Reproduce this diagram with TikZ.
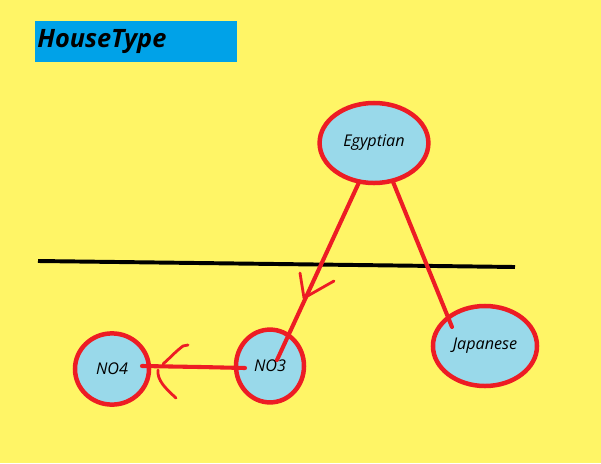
\documentclass[tikz,border=0pt]{standalone}
\usepackage{fontspec}
\setmainfont{Open Sans}
\usetikzlibrary{shapes.geometric}
\definecolor{paper}{RGB}{255,245,102}
\definecolor{titleblue}{RGB}{0,162,232}
\definecolor{housefill}{RGB}{153,217,234}
\definecolor{penred}{RGB}{237,28,36}

\begin{document}
\begin{tikzpicture}[x=0.025cm, y=-0.025cm,
  house/.style={ellipse, draw=penred, fill=housefill, line width=3.2pt, inner sep=0pt, font=\itshape\fontsize{11.5}{13}\selectfont},
  pen/.style={draw=penred, line width=2.9pt, line cap=round, line join=round},
  hand/.style={draw=penred, line width=2pt, line cap=round, line join=round}
]
\fill[paper] (0,0) rectangle (601,463);
\useasboundingbox (0,0) rectangle (601,463);
\node[fill=titleblue, anchor=north west, minimum height=1.025cm, text width=4.95cm, inner xsep=0.05cm, inner ysep=0pt, align=left, font=\bfseries\itshape\fontsize{18}{21}\selectfont] (title) at (35,21) {HouseType};
\node[house, minimum width=2.72cm, minimum height=2.0cm] (egyptian) at (374,143) {Egyptian};
\node[house, minimum width=2.6cm, minimum height=2.0cm] (japanese) at (485,346) {Japanese};
\node[house, minimum width=1.7cm, minimum height=1.82cm] (no3) at (270,366) {NO3};
\node[house, minimum width=1.85cm, minimum height=1.78cm] (no4) at (112,369) {NO4};
\coordinate (lineL) at (38,261);
\coordinate (lineR) at (515,267);
\coordinate (no3in) at (277,360);
\coordinate (japin) at (452,327);
\coordinate (no3out) at (245,368);
\coordinate (no4in) at (142,366);
\draw[line width=2.8pt] (lineL) -- (lineR);
\draw[pen] (egyptian.249) -- (no3in);
\draw[pen] (egyptian.296) -- (japin);
\draw[pen] (no3out) -- (200,367) -- (no4in);
\draw[hand] (300,273) .. controls (302,285) .. (304,298) -- (334,281);
\draw[hand] (188,345) -- (183,346) .. controls (175,352) and (170,358) .. (163,364);
\draw[hand] (158,370) .. controls (157,380) and (165,388) .. (176,398);
\end{tikzpicture}
\end{document}
